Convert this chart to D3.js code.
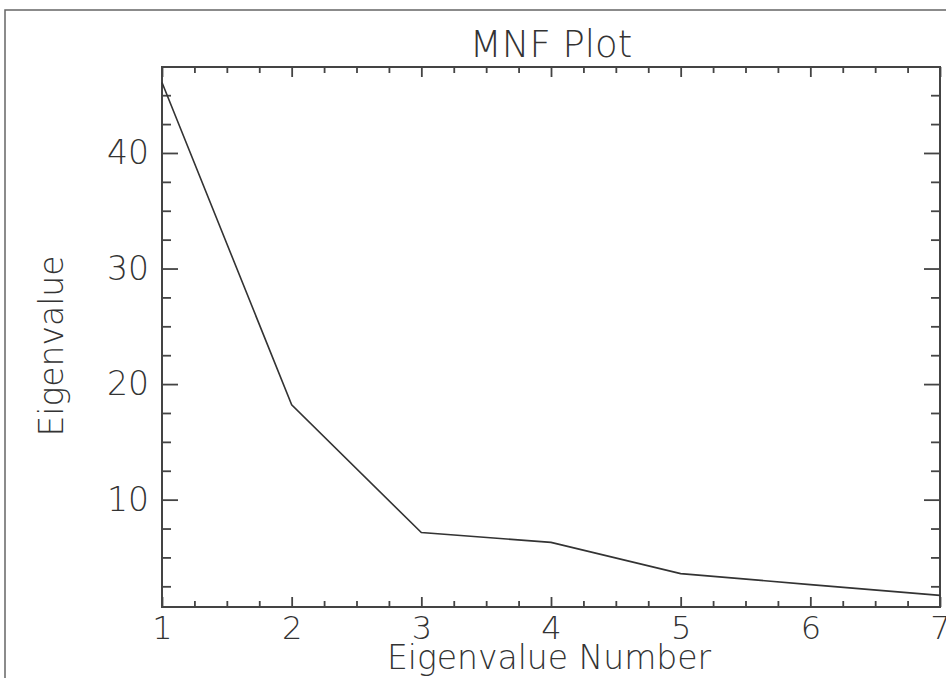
<!DOCTYPE html>
<html>
<head>
<meta charset="utf-8">
<script src="https://cdn.jsdelivr.net/npm/d3@7"></script>
<style>
  body { margin: 0; background: #fff; }
  svg text { font-family: "DejaVu Sans", sans-serif; font-weight: 200; fill: #333; }
</style>
</head>
<body>
<div id="chart"></div>
<script>
// values
var eigenNumber = [1, 2, 3, 4, 5, 6, 7];
var eigenValue = [46.1, 18.2, 7.15, 6.3, 3.6, 2.65, 1.72];
var yRange = [0.71, 47.44]; // axis limits as drawn
var yTickLabels = [10, 20, 30, 40];
var yMinorTicks = [2.5, 5, 7.5, 12.5, 15, 17.5, 22.5, 25, 27.5, 32.5, 35, 37.5, 42.5, 45];
var xMinorTicks = [1.25, 1.5, 1.75, 2.25, 2.5, 2.75, 3.25, 3.5, 3.75,
                   4.25, 4.5, 4.75, 5.25, 5.5, 5.75, 6.25, 6.5, 6.75];

var width = 946, height = 678;
// plot box edges (note: "top" is taken by window.top)
var plotLeft = 162, plotRight = 940, plotTop = 67, plotBottom = 607;

var svg = d3.select("#chart").append("svg")
    .attr("width", width)
    .attr("height", height);

// outer frame (runs off the right / bottom edge)
svg.append("rect")
    .attr("x", 5).attr("y", 10)
    .attr("width", 1000).attr("height", 1000)
    .attr("fill", "none")
    .attr("stroke", "#666")
    .attr("stroke-width", 1.5);

var x = d3.scaleLinear().domain([1, 7]).range([plotLeft, plotRight]);
var y = d3.scaleLinear().domain(yRange).range([plotBottom, plotTop]);

var tickColor = "#444";

function styleAxis(g) {
    g.select(".domain").remove();
    g.selectAll("line").attr("stroke", tickColor).attr("stroke-width", 1.8);
}

// inward ticks on all four sides
svg.append("g").attr("transform", "translate(0," + plotBottom + ")")
    .call(d3.axisBottom(x).tickValues(eigenNumber).tickSize(-10).tickFormat(""))
    .call(styleAxis);
svg.append("g").attr("transform", "translate(0," + plotBottom + ")")
    .call(d3.axisBottom(x).tickValues(xMinorTicks).tickSize(-6).tickFormat(""))
    .call(styleAxis);
svg.append("g").attr("transform", "translate(0," + plotTop + ")")
    .call(d3.axisTop(x).tickValues(eigenNumber).tickSize(-10).tickFormat(""))
    .call(styleAxis);
svg.append("g").attr("transform", "translate(0," + plotTop + ")")
    .call(d3.axisTop(x).tickValues(xMinorTicks).tickSize(-6).tickFormat(""))
    .call(styleAxis);

svg.append("g").attr("transform", "translate(" + plotLeft + ",0)")
    .call(d3.axisLeft(y).tickValues(yTickLabels).tickSize(-16).tickFormat(""))
    .call(styleAxis);
svg.append("g").attr("transform", "translate(" + plotLeft + ",0)")
    .call(d3.axisLeft(y).tickValues(yMinorTicks).tickSize(-9).tickFormat(""))
    .call(styleAxis);
svg.append("g").attr("transform", "translate(" + plotRight + ",0)")
    .call(d3.axisRight(y).tickValues(yTickLabels).tickSize(-16).tickFormat(""))
    .call(styleAxis);
svg.append("g").attr("transform", "translate(" + plotRight + ",0)")
    .call(d3.axisRight(y).tickValues(yMinorTicks).tickSize(-9).tickFormat(""))
    .call(styleAxis);

// tick labels
var xl = svg.append("g").attr("transform", "translate(0," + plotBottom + ")")
    .call(d3.axisBottom(x).tickValues(eigenNumber).tickSize(0).tickPadding(9).tickFormat(d3.format("d")));
xl.select(".domain").remove();
xl.selectAll("text").style("font-size", "32px").attr("fill", "#333");

var yl = svg.append("g").attr("transform", "translate(" + plotLeft + ",0)")
    .call(d3.axisLeft(y).tickValues(yTickLabels).tickSize(0).tickPadding(13).tickFormat(d3.format("d")));
yl.select(".domain").remove();
yl.selectAll("text").style("font-size", "33px").attr("fill", "#333");

// plot box
svg.append("rect")
    .attr("x", plotLeft).attr("y", plotTop)
    .attr("width", plotRight - plotLeft).attr("height", plotBottom - plotTop)
    .attr("fill", "none")
    .attr("stroke", "#444")
    .attr("stroke-width", 2);

// the curve
var line = d3.line()
    .x(function (d, i) { return x(eigenNumber[i]); })
    .y(function (d) { return y(d); });

svg.append("path")
    .datum(eigenValue)
    .attr("d", line)
    .attr("fill", "none")
    .attr("stroke", "#333")
    .attr("stroke-width", 1.6);

// titles
svg.append("text")
    .attr("x", (plotLeft + plotRight) / 2).attr("y", 57)
    .attr("text-anchor", "middle")
    .style("font-size", "37px")
    .text("MNF Plot");

svg.append("text")
    .attr("x", (plotLeft + plotRight) / 2 - 2).attr("y", 669)
    .attr("text-anchor", "middle")
    .style("font-size", "33px")
    .text("Eigenvalue Number");

svg.append("text")
    .attr("transform", "translate(63,346) rotate(-90)")
    .attr("text-anchor", "middle")
    .style("font-size", "33px")
    .text("Eigenvalue");
</script>
</body>
</html>
